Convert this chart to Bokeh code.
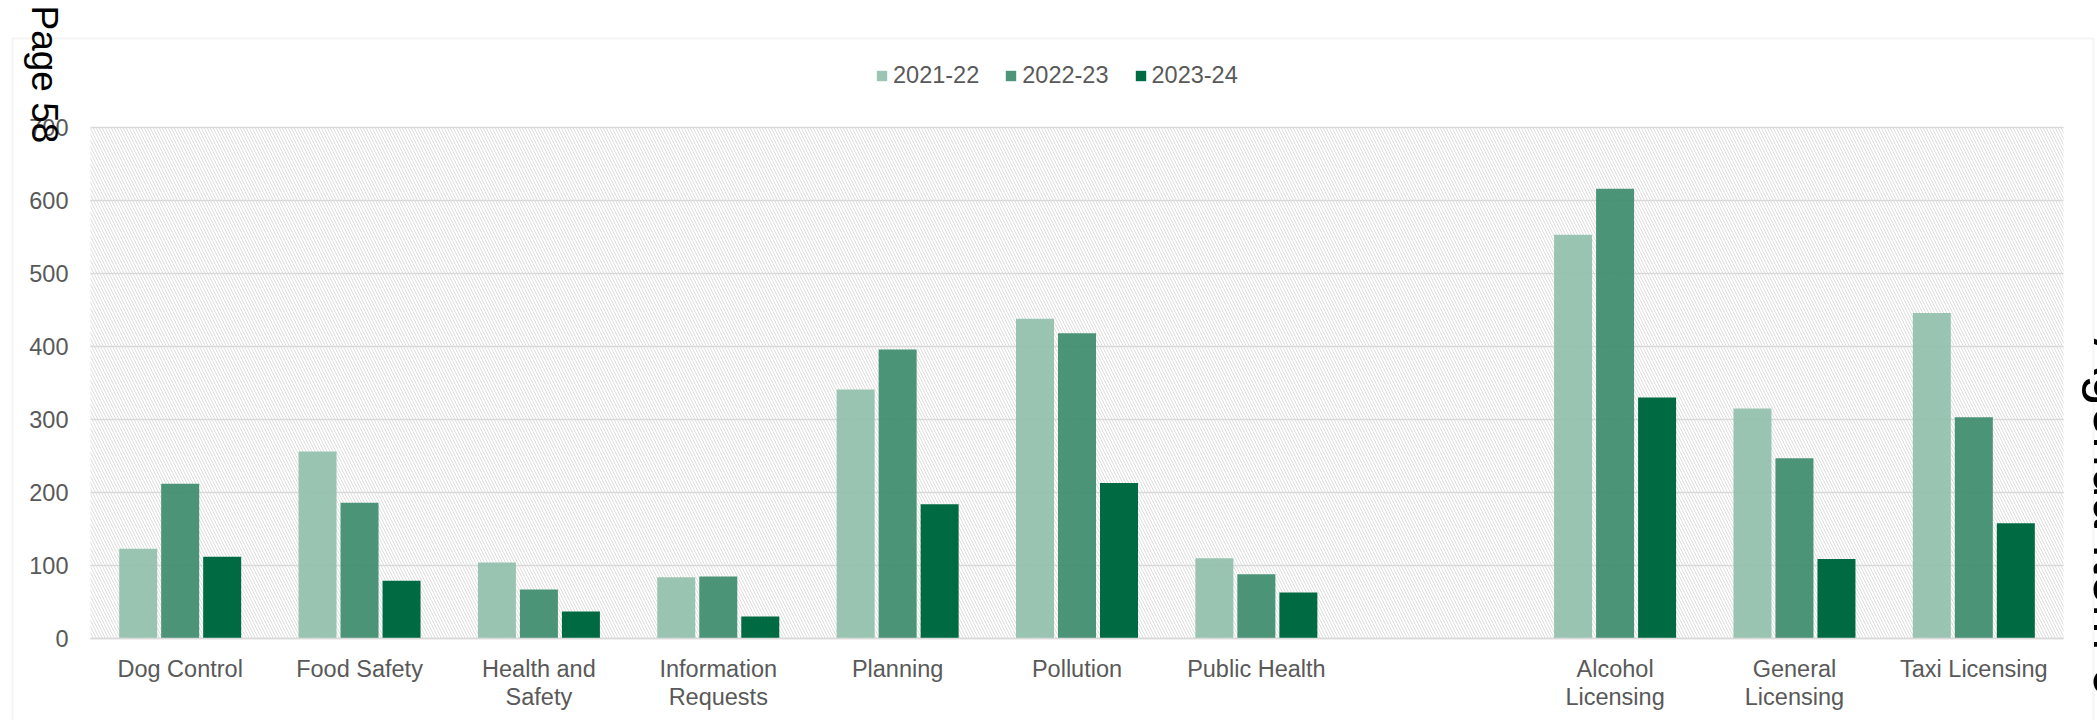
import math
from bokeh.plotting import figure
from bokeh.models import (ColumnDataSource, Range1d, BoxAnnotation, Label,
                          FixedTicker, LinearAxis, Grid)
from bokeh.transform import dodge
from bokeh.embed import file_html
from bokeh.resources import INLINE

# ---------------- data ----------------
categories = ["Dog Control", "Food Safety", "Health and Safety", "Information Requests",
              "Planning", "Pollution", "Public Health", "",
              "Alcohol Licensing", "General Licensing", "Taxi Licensing"]
label_line1 = ["Dog Control", "Food Safety", "Health and", "Information",
               "Planning", "Pollution", "Public Health", "",
               "Alcohol", "General", "Taxi Licensing"]
label_line2 = ["", "", "Safety", "Requests", "", "", "", "",
               "Licensing", "Licensing", ""]
series_names = ["2021-22", "2022-23", "2023-24"]
v_2021_22 = [123, 256, 104, 84, 341, 438, 110, 553, 315, 446]
v_2022_23 = [212, 186, 67, 85, 396, 418, 88, 616, 247, 303]
v_2023_24 = [112, 79, 37, 30, 184, 213, 63, 330, 109, 158]
y_ticks = [0, 100, 200, 300, 400, 500, 600, 700]

colors = ["#90BFAB", "#388A6A", "#006B43"]
alphas = [0.9, 0.9, 1.0]

FONT = "Liberation Sans"
GREY = "#595959"
FS = "23.5px"

# ---------------- geometry (page pixels -> data) ----------------
W, H = 2097, 720
PLOT_L, PLOT_R, PLOT_T, PLOT_B = 90, 2063, 127, 638
n_cat = len(categories)
PX = (PLOT_R - PLOT_L) / n_cat
PY = (PLOT_B - PLOT_T) / 700.0


def xd(px):
    return (px - PLOT_L) / PX


def yd(py):
    return (PLOT_B - py) / PY


centers = [i + 0.5 for i in range(n_cat)]
bar_x = [centers[i] for i, c in enumerate(categories) if c]

source = ColumnDataSource(dict(x=bar_x, a=v_2021_22, b=v_2022_23, c=v_2023_24))

p = figure(x_range=Range1d(xd(0), xd(W)), y_range=Range1d(yd(H), yd(0)),
           width=W, height=H, output_backend="svg", toolbar_location=None,
           min_border=0, min_border_left=0, min_border_right=0,
           min_border_top=0, min_border_bottom=0)
p.outline_line_color = None
p.background_fill_color = "white"
p.border_fill_color = "white"

# page chrome: chart border box
border = BoxAnnotation(left=xd(12), right=xd(2093), top=yd(38), bottom=yd(1200),
                       fill_color=None, line_color="#D9D9D9", line_width=2, level="image")
p.add_layout(border)

# hatched plot-area background
hatch = BoxAnnotation(left=0, right=n_cat, bottom=0, top=700,
                      fill_color=None, line_color=None, hatch_pattern="left_diagonal_line",
                      hatch_color="#DADADA", hatch_scale=6, hatch_weight=0.9, level="image")
p.add_layout(hatch)

# grid lines (limited to the plot area)
p.xgrid.grid_line_color = None
p.ygrid.ticker = FixedTicker(ticks=y_ticks)
p.ygrid.grid_line_color = "#D9D9D9"
p.ygrid.grid_line_width = 1.3
if "cross_bounds" in Grid.properties():
    p.ygrid.cross_bounds = (0, n_cat)
else:
    p.ygrid.grid_line_color = None
    p.segment(x0=[0] * len(y_ticks), x1=[n_cat] * len(y_ticks), y0=y_ticks, y1=y_ticks,
              line_color="#D9D9D9", line_width=1.3, level="underlay")

off = 42.0 / PX
bw = 38.0 / PX
for col, o, name, c, a in zip(["a", "b", "c"], [-off, 0, off], series_names, colors, alphas):
    p.vbar(x=dodge("x", o), top=col, width=bw, source=source,
           fill_color=c, fill_alpha=a, line_color=None, legend_label=name)

# axes, fixed at the plot area's edges
def style_axis(ax):
    ax.major_tick_line_color = None
    ax.minor_tick_line_color = None
    ax.major_tick_out = 0
    ax.major_tick_in = 0
    ax.major_label_text_font = FONT
    ax.major_label_text_font_size = FS
    ax.major_label_text_color = GREY


xa = p.xaxis[0]
xa.fixed_location = 0
xa.bounds = (0, n_cat)
xa.ticker = FixedTicker(ticks=[centers[i] for i, t in enumerate(label_line1) if t])
xa.major_label_overrides = {centers[i]: t for i, t in enumerate(label_line1) if t}
xa.axis_line_color = "#D9D9D9"
xa.axis_line_width = 1.5
xa.major_label_standoff = 17
style_axis(xa)

xa2 = LinearAxis(fixed_location=0, bounds=(0, n_cat),
                 ticker=FixedTicker(ticks=[centers[i] for i, t in enumerate(label_line2) if t]),
                 major_label_overrides={centers[i]: t for i, t in enumerate(label_line2) if t},
                 axis_line_color=None, major_label_standoff=45)
style_axis(xa2)
p.add_layout(xa2, "below")

ya = p.yaxis[0]
ya.fixed_location = 0
ya.ticker = FixedTicker(ticks=y_ticks)
ya.axis_line_color = None
ya.major_label_standoff = 22
style_axis(ya)

# legend
lg = p.legend[0]
lg.orientation = "horizontal"
lg.location = (875, 631)
lg.padding = 0
lg.margin = 0
lg.border_line_color = None
lg.background_fill_alpha = 0
lg.glyph_width = 13
lg.glyph_height = 13
lg.label_standoff = 5
lg.spacing = 25
lg.label_text_font = FONT
lg.label_text_font_size = FS
lg.label_text_color = GREY

# margin texts of the page
p.add_layout(Label(x=xd(43.5), y=yd(5), text="Page 58", angle=-math.pi / 2,
                   text_align="left", text_baseline="alphabetic", text_font=FONT,
                   text_font_size="37px", text_color="black"))
p.add_layout(Label(x=xd(2112), y=yd(338), text="Agenda Item 6", angle=-math.pi / 2,
                   text_align="left", text_baseline="alphabetic", text_font=FONT,
                   text_font_size="55px", text_color="black"))

open("out.html", "w").write(file_html(p, INLINE))
